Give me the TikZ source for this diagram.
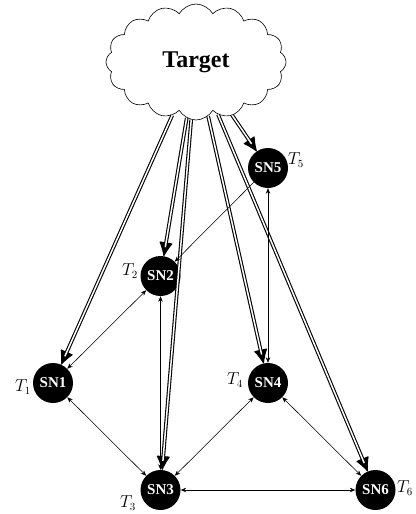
\documentclass[tikz,border=0pt]{standalone}
\usepackage[no-math]{fontspec}
\setmainfont{Liberation Serif}
\usetikzlibrary{shapes.symbols,arrows.meta}
\newcommand\bigarrow[2]{\draw[bigtip] (#1) -- (#2); \draw[bigline] (#1) -- (#2);}
\begin{document}
\begin{tikzpicture}[x=1pt,y=-1pt,
 sn/.style={circle,fill=black,text=white,minimum size=40pt,inner sep=0pt,font=\fontsize{15}{18}\selectfont\bfseries},
 tl/.style={font=\fontsize{16}{19}\selectfont, inner sep=0pt},
 bigtip/.style={line width=1pt,-{Latex[length=15pt,width=14pt,round]}},
 bigline/.style={double,line width=1.1pt,double distance=1.5pt,shorten >=9pt},
 link/.style={line width=0.55pt,{Stealth[length=5.5pt,width=4.5pt]}-{Stealth[length=5.5pt,width=4.5pt]}},
 onelink/.style={line width=0.55pt,-{Stealth[length=5.5pt,width=4.5pt]}},
]
\useasboundingbox (0,0) rectangle (415,514);
\node[cloud, cloud puffs=16, cloud puff arc=120, aspect=1.55, draw, fill=white, line width=0.6pt,
  minimum width=180pt, minimum height=116pt,
  font=\fontsize{24}{28}\selectfont\bfseries] (target) at (196,62) {Target};
\node[sn] (sn1) at (53,383) {SN1};
\node[sn] (sn2) at (160.5,276) {SN2};
\node[sn] (sn3) at (160.5,490) {SN3};
\node[sn] (sn4) at (268,383) {SN4};
\node[sn] (sn5) at (268,168) {SN5};
\node[sn] (sn6) at (375.5,490) {SN6};
\node[tl] (t1) at (23,387) {$T_1$};
\node[tl] (t2) at (130,271) {$T_2$};
\node[tl] (t3) at (128,503) {$T_3$};
\node[tl] (t4) at (235,380) {$T_4$};
\node[tl] (t5) at (296,160) {$T_5$};
\node[tl] (t6) at (405,488) {$T_6$};
\bigarrow{target}{sn1}
\bigarrow{target}{sn2}
\bigarrow{target}{sn3}
\bigarrow{target}{sn4}
\bigarrow{target}{sn5}
\bigarrow{target}{sn6}
\draw[link] (sn1) -- (sn2);
\draw[link] (sn2) -- (sn3);
\draw[onelink] (sn5) -- (sn2);
\draw[link] (sn5) -- (sn4);
\draw[link] (sn1) -- (sn3);
\draw[link] (sn3) -- (sn4);
\draw[link] (sn4) -- (sn6);
\draw[link] (sn3) -- (sn6);
\end{tikzpicture}
\end{document}
